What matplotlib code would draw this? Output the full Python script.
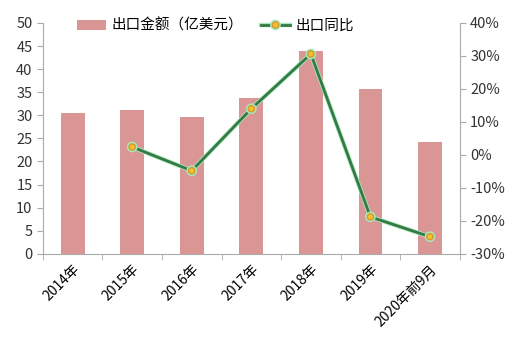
import matplotlib
matplotlib.use("Agg")
import matplotlib.pyplot as plt
import matplotlib.patheffects as pe
import numpy as np

plt.rcParams['font.family'] = ['Noto Sans CJK SC', 'DejaVu Sans']

years = ['2014年', '2015年', '2016年', '2017年', '2018年', '2019年', '2020年前9月']
export_amt = [30.5, 31.2, 29.6, 33.8, 44.0, 35.7, 24.2]
yoy_years = [1, 2, 3, 4, 5, 6]
yoy = [2.4, -4.8, 14.0, 30.6, -18.8, -24.8]

fig = plt.figure(figsize=(5.16, 3.38), dpi=100)
ax = fig.add_axes([0.083, 0.249, 0.808, 0.683])
x = np.arange(len(years))
bars = ax.bar(x, export_amt, width=0.4, color='#d99694', zorder=1)
ax.set_xlim(-0.5, 6.5)
ax.set_ylim(0, 50)
ax.set_yticks(range(0, 51, 5))
ax.set_xticks(x)
ax.set_xticklabels(years, rotation=45, ha='right', rotation_mode='anchor', fontsize=10)
ax.set_xticks(np.arange(-0.5, 7, 1), minor=True)
ax.tick_params(axis='x', which='major', length=0, pad=6)
ax.tick_params(axis='x', which='minor', length=4, color='#aaaaaa')
ax.tick_params(axis='y', length=4, colors='#aaaaaa', labelcolor='#333333', labelsize=10.5)
for s in ['top', 'right']:
    ax.spines[s].set_visible(False)
for s in ['left', 'bottom']:
    ax.spines[s].set_color('#aaaaaa')

ax2 = ax.twinx()
line, = ax2.plot(yoy_years, yoy, color='#357a45', lw=2, marker='o', ms=4.5,
                 mfc='#f2c12e', mec='#d9962b', zorder=3,
                 path_effects=[pe.Stroke(linewidth=3.2, foreground='#a8e8bc'), pe.Normal()])
ax2.set_ylim(-30, 40)
ax2.set_yticks(range(-30, 41, 10))
ax2.set_yticklabels([f'{v}%' for v in range(-30, 41, 10)])
ax2.tick_params(axis='y', length=4, colors='#aaaaaa', labelcolor='#333333', labelsize=10.5)
for s in ['top', 'left', 'bottom']:
    ax2.spines[s].set_visible(False)
ax2.spines['right'].set_color('#aaaaaa')

ax.legend([bars, line], ['出口金额（亿美元）', '出口同比'], loc='upper left',
          bbox_to_anchor=(0.05, 1.075), ncol=2, frameon=False, fontsize=10.5,
          handlelength=2.0, handletextpad=0.4, columnspacing=1.2)

fig.savefig('out.png', dpi=100)
